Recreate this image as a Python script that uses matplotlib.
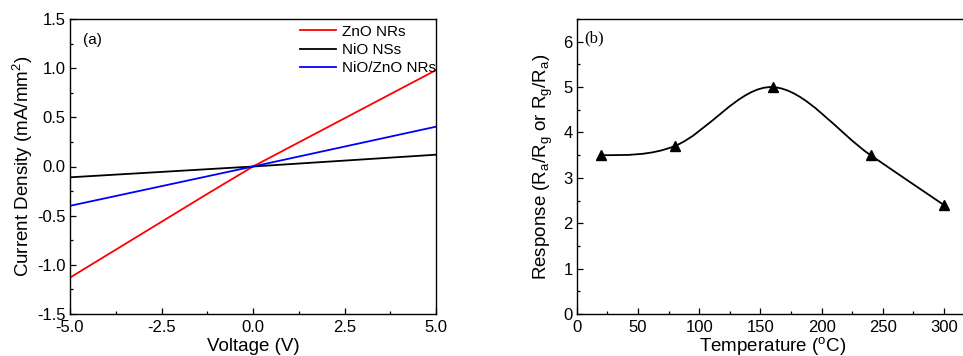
import matplotlib

matplotlib.use("Agg")

import matplotlib.pyplot as plt
import numpy as np
from matplotlib.patches import PathPatch
from matplotlib.path import Path
from matplotlib.ticker import MultipleLocator

plt.rcParams["font.family"] = ["Liberation Sans", "DejaVu Sans"]
plt.rcParams["mathtext.default"] = "regular"

# panel (a): I-V curves
voltage_zno = [-5.0, -1.3, 0.0, 5.0]
current_zno = [-1.13, -0.29, 0.0, 0.98]
voltage_nio = [-5.0, 0.0, 5.0]
current_nio = [-0.11, 0.0, 0.12]
voltage_mix = [-5.0, 0.0, 5.0]
current_mix = [-0.40, 0.0, 0.405]

# panel (b): response vs temperature
temperature = [20, 80, 160, 240, 300]
response = [3.5, 3.7, 5.0, 3.5, 2.4]


def _smooth_path(xs, ys):
    # Catmull-Rom style tangents turned into cubic Bezier segments
    xs = np.asarray(xs, dtype=float)
    ys = np.asarray(ys, dtype=float)
    n = len(xs)
    slopes = np.zeros(n)
    for i in range(n):
        lo, hi = max(i - 1, 0), min(i + 1, n - 1)
        slopes[i] = (ys[hi] - ys[lo]) / (xs[hi] - xs[lo])
    slopes[0] = 0.0
    verts = [(xs[0], ys[0])]
    codes = [Path.MOVETO]
    for i in range(n - 1):
        h = (xs[i + 1] - xs[i]) / 3.0
        verts += [
            (xs[i] + h, ys[i] + slopes[i] * h),
            (xs[i + 1] - h, ys[i + 1] - slopes[i + 1] * h),
            (xs[i + 1], ys[i + 1]),
        ]
        codes += [Path.CURVE4] * 3
    return Path(verts, codes)


def _style_axis(axis):
    axis.tick_params(direction="in", which="both", top=False, right=False,
                     labelsize=12, pad=3)
    axis.tick_params(axis="x", which="major", pad=4.5)
    axis.tick_params(which="major", length=4, width=0.9)
    axis.tick_params(which="minor", length=2.5, width=0.9)
    for spine in axis.spines.values():
        spine.set_linewidth(1.0)


figure = plt.figure(figsize=(9.63, 3.56), dpi=100)

iv_axis = figure.add_axes([70 / 963, 1 - 314 / 356, 366 / 963, 295 / 356])
iv_axis.plot(voltage_zno, current_zno, color="#ff0000", linewidth=1.3, label="ZnO NRs")
iv_axis.plot(voltage_nio, current_nio, color="#000000", linewidth=1.3, label="NiO NSs")
iv_axis.plot(voltage_mix, current_mix, color="#0000ff", linewidth=1.3, label="NiO/ZnO NRs")
iv_axis.set_xlim(-5, 5)
iv_axis.set_ylim(-1.5, 1.5)
iv_axis.xaxis.set_major_locator(MultipleLocator(2.5))
iv_axis.xaxis.set_minor_locator(MultipleLocator(1.25))
iv_axis.yaxis.set_major_locator(MultipleLocator(0.5))
iv_axis.yaxis.set_minor_locator(MultipleLocator(0.25))
iv_axis.set_xticklabels([f"{v:.1f}" for v in iv_axis.get_xticks()])
iv_axis.set_yticklabels([f"{v:.1f}" for v in iv_axis.get_yticks()])
iv_axis.set_xlabel("Voltage (V)", fontsize=13.5, labelpad=2)
iv_axis.set_ylabel("Current Density (mA/mm$^2$)", fontsize=13.5, labelpad=2)
_style_axis(iv_axis)
iv_axis.text(0.035, 0.93, "(a)", transform=iv_axis.transAxes, fontsize=11,
             va="center", ha="left")
iv_axis.legend(loc="upper right", bbox_to_anchor=(1.024, 1.012), frameon=False,
               fontsize=11, handlelength=2.4, handletextpad=0.35,
               labelspacing=0.28, borderaxespad=0.2)

resp_axis = figure.add_axes([576.7 / 963, 1 - 314 / 356, 392 / 963, 295 / 356])
px_per_unit = (944 - 576.7) / 300
resp_axis.set_xlim(0, 392 / px_per_unit)
resp_axis.set_ylim(0, 6.5)
resp_axis.add_patch(PathPatch(_smooth_path(temperature, response), facecolor="none",
                              edgecolor="black", linewidth=1.3))
resp_axis.plot(temperature, response, linestyle="none", marker="^", color="black",
               markersize=6.5)
resp_axis.xaxis.set_major_locator(MultipleLocator(50))
resp_axis.xaxis.set_minor_locator(MultipleLocator(25))
resp_axis.yaxis.set_major_locator(MultipleLocator(1))
resp_axis.yaxis.set_minor_locator(MultipleLocator(0.5))
resp_axis.set_xlabel("Temperature ($^{o}$C)", fontsize=13.5, labelpad=0)
resp_axis.set_ylabel("Response (R$_a$/R$_g$ or R$_g$/R$_a$)", fontsize=13.5, labelpad=6)
_style_axis(resp_axis)
resp_axis.text(0.018, 0.935, "(b)", transform=resp_axis.transAxes, fontsize=12,
               va="center", ha="left", family="Liberation Serif")

figure.savefig("out.png", dpi=100)
plt.close(figure)
